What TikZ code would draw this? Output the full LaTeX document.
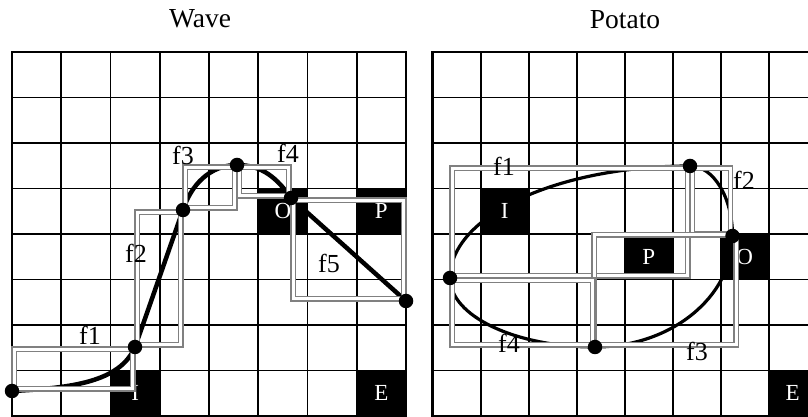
\documentclass[tikz,border=0pt]{standalone}
\usepackage{fontspec}
\setmainfont{Liberation Serif}
\usetikzlibrary{calc}

\tikzset{
  gridline/.style={line width=1.7pt},
  gridframe/.style={line width=2.5pt},
  cellbox/.style={fill=black,text=white,inner sep=0pt,minimum height=45.5pt,
    font=\fontsize{23}{26}\selectfont},
  flabel/.style={inner sep=0pt,font=\fontsize{26}{30}\selectfont},
  gridtitle/.style={inner sep=0pt,anchor=base,font=\fontsize{27.5}{32}\selectfont},
  segbox/.style={draw=gray,line width=1.3pt,double=white,double distance=3pt},
  vertex/.style={circle,fill=black,inner sep=0pt,minimum size=14.5pt},
}

\begin{document}
\begin{tikzpicture}[x=1pt,y=1pt]
  \useasboundingbox (0,0) rectangle (808,417);
  \clip (0,0) rectangle (808,417);

  % the two grids
  \foreach \i in {0,...,8} {
    \draw[gridline] ({12+49.25*\i},1) -- ({12+49.25*\i},365);
    \draw[gridline] (12,{1+45.5*\i}) -- (406,{1+45.5*\i});
    \draw[gridline] ({432.7+48*\i},1) -- ({432.7+48*\i},365);
    \draw[gridline] (432.7,{1+45.5*\i}) -- (816.7,{1+45.5*\i});
  }
  \draw[gridframe] (12,1) rectangle (406,365);
  \draw[gridframe] (432.7,1) rectangle (816.7,365);

  % curve points
  \coordinate (w1) at (12,26);
  \coordinate (w2) at (135,70);
  \coordinate (w3) at (183,207);
  \coordinate (w4) at (237,252);
  \coordinate (w5) at (291,219);
  \coordinate (w6) at (406,116);
  \coordinate (p1) at (690,251);
  \coordinate (p2) at (732.5,181);
  \coordinate (p3) at (595,70);
  \coordinate (p4) at (450,139);

  % wave
  \draw[line width=4.5pt] (w1) .. controls +(60,3) and +(-15,-35) .. (w2)
    .. controls +(16,45) and +(-16,-45) .. (w3)
    .. controls +(8,25) and +(-27,0) .. (w4)
    .. controls +(25,0) and +(-14,20) .. (w5) -- (w6);

  % potato
  \draw[line width=3.2pt] (p4) .. controls +(0,62) and +(-133,0) .. (p1)
    .. controls +(23.5,0) and +(0,38.6) .. (p2)
    .. controls +(0,-61) and +(76,0) .. (p3)
    .. controls +(-80,0) and +(0,-38) .. (p4);

  % black cells
  \node[cellbox,minimum width=49.25pt] (wO) at (282.875,205.75) {O};
  \node[cellbox,minimum width=49.25pt] (wP) at (381.375,205.75) {P};
  \node[cellbox,minimum width=49.25pt] (wI) at (135.125,23.75) {I};
  \node[cellbox,minimum width=49.25pt] (wE) at (381.375,23.75) {E};
  \node[cellbox,minimum width=48pt] (pI) at (504.7,205.75) {I};
  \node[cellbox,minimum width=48pt] (pP) at (648.7,160.25) {P};
  \node[cellbox,minimum width=48pt] (pO) at (744.7,160.25) {O};
  \node[cellbox,minimum width=48pt] (pE) at (792.7,23.75) {E};

  % segment boxes
  \draw[segbox] ($(w1)+(2.15,2.15)$) rectangle ($(w2)-(2.15,2.15)$);
  \draw[segbox] ($(w2)+(2.15,2.15)$) rectangle ($(w3)-(2.15,2.15)$);
  \draw[segbox] ($(w3)+(2.15,2.15)$) rectangle ($(w4)-(2.15,2.15)$);
  \draw[segbox] ($(w4)+(2.15,-2.15)$) rectangle ($(w5)+(-2.15,2.15)$);
  \draw[segbox] ($(w5)+(2.15,-2.15)$) rectangle ($(w6)+(-2.15,2.15)$);
  \draw[segbox] ($(p4)+(2.15,2.15)$) rectangle ($(p1)-(2.15,2.15)$);
  \draw[segbox] ($(p1)+(2.15,-2.15)$) rectangle ($(p2)+(-2.15,2.15)$);
  \draw[segbox] ($(p3)+(-1,2.15)$) rectangle ($(p2)+(3.5,1)$);
  \draw[segbox] ($(p4)+(2.15,-2.15)$) rectangle ($(p3)+(-2.15,2.15)$);

  % segment labels
  \node[flabel] (wf1) at (90,81.5) {f1};
  \node[flabel] (wf2) at (136,164) {f2};
  \node[flabel] (wf3) at (183,262) {f3};
  \node[flabel] (wf4) at (288,264) {f4};
  \node[flabel] (wf5) at (329,153.5) {f5};
  \node[flabel] (pf1) at (504,250.5) {f1};
  \node[flabel] (pf2) at (744,236.5) {f2};
  \node[flabel] (pf3) at (697,65.5) {f3};
  \node[flabel] (pf4) at (509,74) {f4};

  % points
  \foreach \p in {w1,w2,w3,w4,w5,w6,p1,p2,p3,p4}
    \node[vertex] (v\p) at (\p) {};

  % titles
  \node[gridtitle] (wavetitle) at (200,389) {Wave};
  \node[gridtitle] (potatotitle) at (625,388) {Potato};
\end{tikzpicture}
\end{document}
